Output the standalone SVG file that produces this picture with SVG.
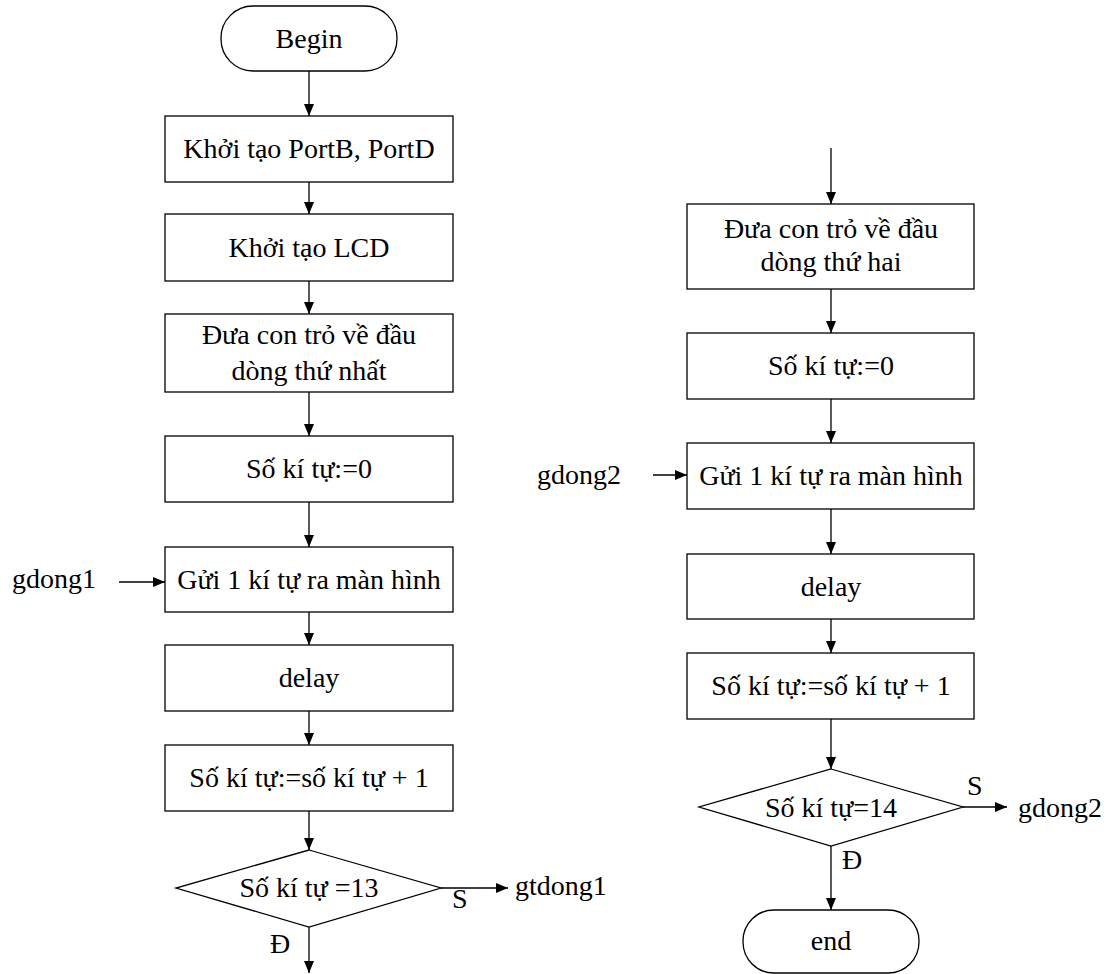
<svg xmlns="http://www.w3.org/2000/svg" width="1114" height="974" viewBox="0 0 1114 974">
<style>
.s{fill:#fff;stroke:#000;stroke-width:1.3}
.t{font-family:"Liberation Serif","Times New Roman",serif;font-size:28px;fill:#000}
.m{text-anchor:middle}
.c{fill:none;stroke:#000;stroke-width:1.3}
</style>
<defs>
<marker id="ah" markerUnits="userSpaceOnUse" markerWidth="12" markerHeight="10" refX="12" refY="5" orient="auto">
<path d="M0,0 L12,5 L0,10 z" fill="#000"/>
</marker>
</defs>
<rect width="1114" height="974" fill="#fff"/>
<g id="connectors">
<line class="c" x1="309" y1="71" x2="309" y2="116" marker-end="url(#ah)"/>
<line class="c" x1="309" y1="182" x2="309" y2="214" marker-end="url(#ah)"/>
<line class="c" x1="309" y1="281" x2="309" y2="314" marker-end="url(#ah)"/>
<line class="c" x1="309" y1="392" x2="309" y2="436" marker-end="url(#ah)"/>
<line class="c" x1="309" y1="502" x2="309" y2="547" marker-end="url(#ah)"/>
<line class="c" x1="309" y1="612" x2="309" y2="645" marker-end="url(#ah)"/>
<line class="c" x1="309" y1="711" x2="309" y2="745" marker-end="url(#ah)"/>
<line class="c" x1="309" y1="811" x2="309" y2="850" marker-end="url(#ah)"/>
<line class="c" x1="309" y1="927" x2="309" y2="973" marker-end="url(#ah)"/>
<line class="c" x1="441" y1="888" x2="508" y2="888" marker-end="url(#ah)"/>
<line class="c" x1="119" y1="582" x2="165" y2="582" marker-end="url(#ah)"/>
<line class="c" x1="831" y1="148" x2="831" y2="204" marker-end="url(#ah)"/>
<line class="c" x1="831" y1="289" x2="831" y2="333" marker-end="url(#ah)"/>
<line class="c" x1="831" y1="399" x2="831" y2="443" marker-end="url(#ah)"/>
<line class="c" x1="831" y1="509" x2="831" y2="554" marker-end="url(#ah)"/>
<line class="c" x1="831" y1="619" x2="831" y2="653" marker-end="url(#ah)"/>
<line class="c" x1="831" y1="719" x2="831" y2="769" marker-end="url(#ah)"/>
<line class="c" x1="831" y1="846" x2="831" y2="910" marker-end="url(#ah)"/>
<line class="c" x1="963" y1="807" x2="1007" y2="807" marker-end="url(#ah)"/>
<line class="c" x1="653" y1="475" x2="687" y2="475" marker-end="url(#ah)"/>
</g>
<g id="begin"><rect class="s" x="221" y="6" width="176" height="65" rx="32" ry="32"/><text class="t m" x="309" y="48">Begin</text></g>
<g id="init-ports"><rect class="s" x="165" y="116" width="288" height="66"/><text class="t m" x="309" y="158">Khởi tạo PortB, PortD</text></g>
<g id="init-lcd"><rect class="s" x="165" y="214" width="288" height="67"/><text class="t m" x="309" y="257">Khởi tạo LCD</text></g>
<g id="cursor1"><rect class="s" x="165" y="314" width="288" height="78"/><text class="t m" x="309" y="344">Đưa con trỏ về đầu</text><text class="t m" x="309" y="380">dòng thứ nhất</text></g>
<g id="count0-1"><rect class="s" x="165" y="436" width="288" height="66"/><text class="t m" x="309" y="478">Số kí tự:=0</text></g>
<g id="send1"><rect class="s" x="165" y="547" width="288" height="65"/><text class="t m" x="309" y="589">Gửi 1 kí tự ra màn hình</text></g>
<g id="gdong1"><text class="t" x="12" y="588">gdong1</text></g>
<g id="delay1"><rect class="s" x="165" y="645" width="288" height="66"/><text class="t m" x="309" y="687">delay</text></g>
<g id="inc1"><rect class="s" x="165" y="745" width="288" height="66"/><text class="t m" x="309" y="787">Số kí tự:=số kí tự + 1</text></g>
<g id="dec1"><polygon class="s" points="309,850 441,888 309,927 176,888"/><text class="t m" x="309" y="897">Số kí tự =13</text>
<text class="t" x="452" y="908">S</text><text class="t" x="515" y="895">gtdong1</text><text class="t" x="270" y="953">Đ</text></g>
<g id="cursor2"><rect class="s" x="687" y="204" width="287" height="85"/><text class="t m" x="831" y="238">Đưa con trỏ về đầu</text><text class="t m" x="831" y="271">dòng thứ hai</text></g>
<g id="count0-2"><rect class="s" x="687" y="333" width="287" height="66"/><text class="t m" x="831" y="375">Số kí tự:=0</text></g>
<g id="send2"><rect class="s" x="687" y="443" width="287" height="66"/><text class="t m" x="831" y="485">Gửi 1 kí tự ra màn hình</text></g>
<g id="gdong2-in"><text class="t" x="537" y="484">gdong2</text></g>
<g id="delay2"><rect class="s" x="687" y="554" width="287" height="65"/><text class="t m" x="831" y="596">delay</text></g>
<g id="inc2"><rect class="s" x="687" y="653" width="287" height="66"/><text class="t m" x="831" y="695">Số kí tự:=số kí tự + 1</text></g>
<g id="dec2"><polygon class="s" points="831,769 963,807 831,846 699,807"/><text class="t m" x="831" y="817">Số kí tự=14</text>
<text class="t" x="967" y="795">S</text><text class="t" x="1018" y="817">gdong2</text><text class="t" x="842" y="869">Đ</text></g>
<g id="end"><rect class="s" x="743" y="910" width="176" height="63" rx="31" ry="31"/><text class="t m" x="831" y="950">end</text></g>
</svg>
